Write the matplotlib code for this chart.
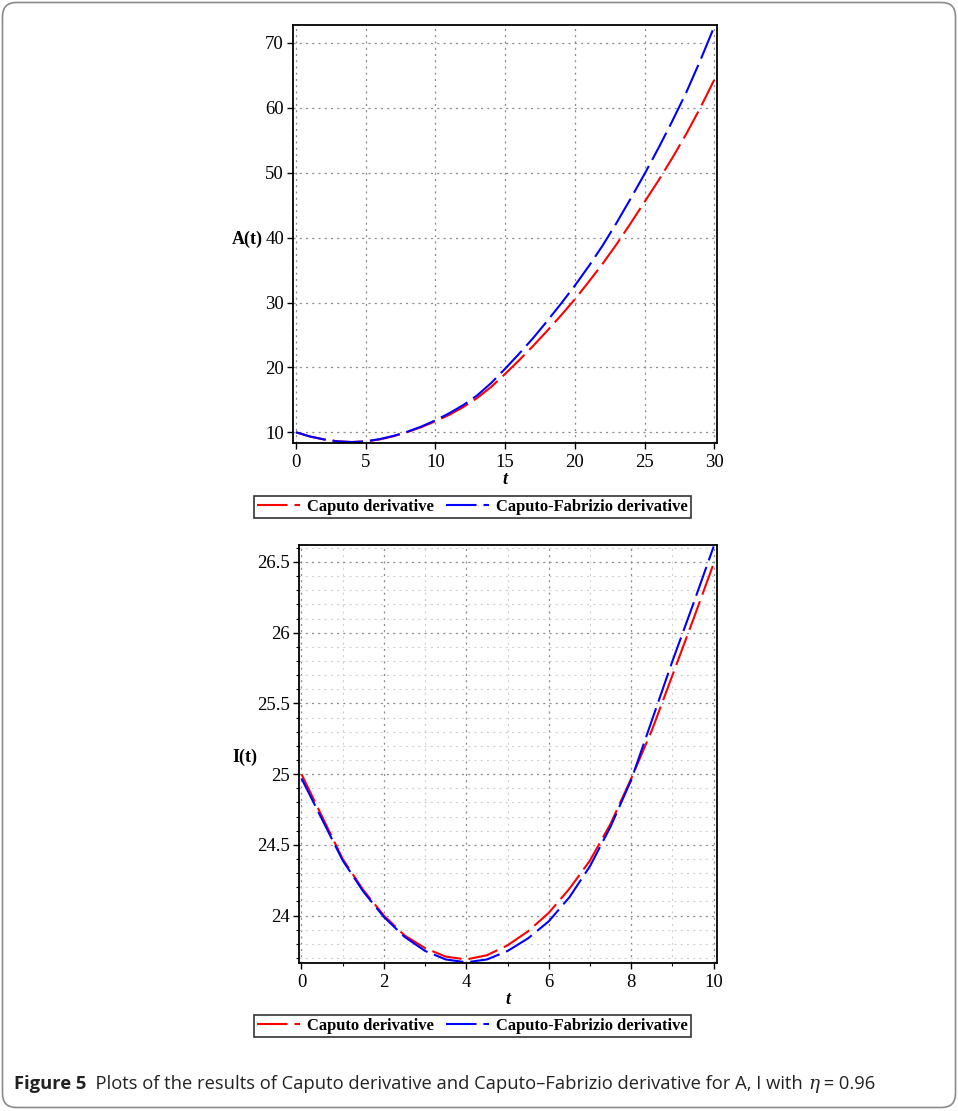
import matplotlib
matplotlib.use("Agg")
import matplotlib.pyplot as plt
from matplotlib import font_manager
from matplotlib.patches import FancyBboxPatch
from matplotlib.ticker import FixedLocator, MultipleLocator
from matplotlib.lines import Line2D

# ---------------- data ----------------
t_A = list(range(0, 31))
A_caputo = [10.0, 9.35, 8.9, 8.6, 8.5, 8.6, 8.9, 9.4, 10.05, 10.8, 11.7,
            12.7, 13.9, 15.3, 17.0, 19.0, 21.1, 23.3, 25.6, 28.0, 30.5,
            33.2, 36.0, 39.0, 42.2, 45.5, 48.8, 52.3, 56.0, 60.0, 64.3]
A_cf = [10.0, 9.35, 8.9, 8.6, 8.5, 8.6, 8.95, 9.45, 10.1, 10.9, 11.85,
        12.95, 14.2, 15.7, 17.6, 19.8, 22.1, 24.5, 27.1, 29.8, 32.6,
        35.6, 38.8, 42.3, 46.0, 49.8, 53.8, 58.0, 62.4, 67.3, 72.5]

t_I = [0, 0.5, 1, 1.5, 2, 2.5, 3, 3.5, 4, 4.5, 5, 5.5, 6, 6.5, 7, 7.5, 8,
       8.5, 9, 9.5, 10]
I_caputo = [25.0, 24.7, 24.40, 24.18, 24.0, 23.86, 23.77, 23.71, 23.69,
            23.72, 23.79, 23.89, 24.02, 24.19, 24.39, 24.65, 24.97, 25.31,
            25.70, 26.09, 26.49]
I_cf = [24.97, 24.68, 24.39, 24.17, 23.99, 23.85, 23.75, 23.69, 23.67,
        23.69, 23.75, 23.84, 23.96, 24.13, 24.35, 24.63, 24.96, 25.38,
        25.80, 26.20, 26.61]

A_xticks = [0, 5, 10, 15, 20, 25, 30]
A_yticks = [10, 20, 30, 40, 50, 60, 70]
I_xticks = [0, 2, 4, 6, 8, 10]
I_yticks = [24, 24.5, 25, 25.5, 26, 26.5]
I_ytick_labels = ["24", "24.5", "25", "25.5", "26", "26.5"]

series_labels = ["Caputo derivative", "Caputo-Fabrizio derivative"]
series_colors = ["#ff0000", "#0000ff"]

caption_bold = "Figure 5"
caption_text = "  Plots of the results of Caputo derivative and Caputo\u2013Fabrizio derivative for A, I with "
caption_eta = "\u03b7"
caption_tail = " = 0.96"

# ---------------- style ----------------
W, H = 958, 1111
DPI = 100
SERIF = "Liberation Serif"
plt.rcParams["lines.scale_dashes"] = False
plt.rcParams["font.family"] = [SERIF, "DejaVu Serif"]
names = {f.name for f in font_manager.fontManager.ttflist}
CAP_FONT = "Liberation Sans Narrow" if "Liberation Sans Narrow" in names else "Open Sans"

fig = plt.figure(figsize=(W / DPI, H / DPI), dpi=DPI)

def px_rect(l, t, r, b):
    return [l / W, 1 - b / H, (r - l) / W, (b - t) / H]

dash = (0, (22, 5))
grid_major = dict(color="#8c8c8c", linestyle=(0, (1.5, 3)), linewidth=0.9)
grid_minor = dict(color="#d0d0d0", linestyle=(0, (1.5, 3)), linewidth=0.8)

def style_axes(ax):
    for s in ax.spines.values():
        s.set_linewidth(1.3)
        s.set_color("black")
    ax.tick_params(which="major", direction="out", length=4, width=1,
                   labelsize=13.5, pad=2.5)
    ax.tick_params(axis="x", which="major", pad=4)
    ax.tick_params(which="minor", direction="out", length=2.2, width=0.8)

# ---- top: A(t)
ax1 = fig.add_axes(px_rect(293, 25, 717, 443))
ax1.plot(t_A, A_caputo, color=series_colors[0], lw=1.5, linestyle=dash)
ax1.plot(t_A, A_cf, color=series_colors[1], lw=1.5, linestyle=dash)
ax1.set_xlim(-0.22, 30.2)
ax1.set_ylim(8.35, 72.77)
ax1.xaxis.set_major_locator(FixedLocator(A_xticks))
ax1.yaxis.set_major_locator(FixedLocator(A_yticks))
ax1.grid(True, which="major", **grid_major)
ax1.set_axisbelow(True)
style_axes(ax1)

# ---- bottom: I(t)
ax2 = fig.add_axes(px_rect(299, 545, 717, 963))
ax2.plot(t_I, I_caputo, color=series_colors[0], lw=1.5, linestyle=dash)
ax2.plot(t_I, I_cf, color=series_colors[1], lw=1.5, linestyle=dash)
ax2.set_xlim(-0.06, 10.08)
ax2.set_ylim(23.665, 26.62)
ax2.xaxis.set_major_locator(FixedLocator(I_xticks))
ax2.yaxis.set_major_locator(FixedLocator(I_yticks))
ax2.set_yticklabels(I_ytick_labels)
ax2.xaxis.set_minor_locator(MultipleLocator(1))
ax2.yaxis.set_minor_locator(MultipleLocator(0.1))
ax2.grid(True, which="minor", **grid_minor)
ax2.grid(True, which="major", **grid_major)
ax2.set_axisbelow(True)
style_axes(ax2)

# axis labels
lab_font = dict(family=SERIF, weight="bold", size=13)
fig.text(232 / W, 1 - 239 / H, "A(t)", ha="left", va="center", **lab_font)
fig.text(232 / W, 1 - 757 / H, "I(t)", ha="left", va="center", **lab_font)
fig.text(505 / W, 1 - 479 / H, "t", ha="center", va="center", style="italic", **lab_font)
fig.text(508 / W, 1 - 1000 / H, "t", ha="center", va="center", style="italic", **lab_font)

# legends
handles = [Line2D([], [], color=c, lw=1.5, linestyle=dash) for c in series_colors]
for cy in (507, 1026):
    leg = fig.legend(handles, series_labels, loc="center",
                     bbox_to_anchor=(472.5 / W, 1 - cy / H), ncol=2,
                     frameon=True, fancybox=False, handlelength=2.6,
                     handletextpad=0.45, columnspacing=0.7, borderpad=0.2,
                     borderaxespad=0,
                     prop=dict(family=SERIF, weight="bold", size=11.9))
    leg.get_frame().set_edgecolor("black")
    leg.get_frame().set_linewidth(1.2)

# outer rounded frame
frame = FancyBboxPatch((2.5, 3.5), 953, 1105,
                       boxstyle="round,pad=0,rounding_size=14",
                       transform=None, facecolor="none", edgecolor="#8a8a8a",
                       linewidth=1.2)
fig.patches.append(frame)

# caption (placed piecewise)
renderer = fig.canvas.get_renderer()
size = 13.2
x = 14
ycap = H - 1084
pieces = [(caption_bold, dict(weight="bold")), (caption_text, {}),
          (caption_eta, dict(style="italic")), (caption_tail, {})]
for txt, kw in pieces:
    fam = CAP_FONT if txt != caption_eta else "DejaVu Serif"
    tt = fig.text(x / W, ycap / H, txt, ha="left", va="center",
                  family=fam, size=size, color="#222222", **kw)
    bb = tt.get_window_extent(renderer)
    x += bb.width

fig.savefig("out.png", dpi=DPI)
